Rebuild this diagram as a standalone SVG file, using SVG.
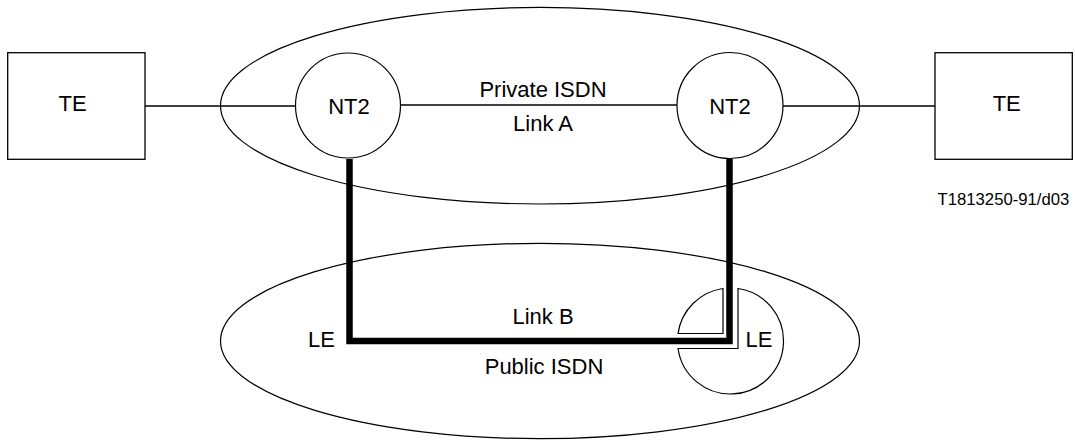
<svg xmlns="http://www.w3.org/2000/svg" width="1075" height="441" viewBox="0 0 1075 441">
<style>
  .lbl { font-family: "Liberation Sans", Arial, sans-serif; font-size: 22px; fill: #000; }
  .code { font-family: "Liberation Sans", Arial, sans-serif; font-size: 16.7px; fill: #000; }
  .box { fill: #fff; stroke: #000; stroke-width: 1.3; }
  .circ { fill: #fff; stroke: #000; stroke-width: 1.2; }
  .ell { fill: none; stroke: #000; stroke-width: 1.2; }
  .thin { fill: none; stroke: #000; stroke-width: 1.7; }
  .thick { fill: none; stroke: #000; stroke-width: 6.5; stroke-linejoin: miter; }
</style>
<rect width="1075" height="441" fill="#fff"/>
<g id="private-isdn">
  <ellipse class="ell" cx="540" cy="105.7" rx="319.5" ry="98.3"/>
</g>
<g id="public-isdn">
  <ellipse class="ell" cx="540" cy="341" rx="319.5" ry="97.7"/>
</g>
<g id="connectors">
  <line class="thin" x1="145" y1="106" x2="296" y2="106"/>
  <line class="thin" x1="400" y1="105" x2="677" y2="105"/>
  <line class="thin" x1="783" y1="106" x2="935" y2="106"/>
  <path class="thick" d="M349.5,159 V341 H729.5 V159"/>
  <text class="lbl" x="543" y="97" text-anchor="middle">Private ISDN</text>
  <text class="lbl" x="543" y="131" text-anchor="middle">Link A</text>
  <text class="lbl" x="543" y="323.5" text-anchor="middle">Link B</text>
  <text class="lbl" x="544" y="373.5" text-anchor="middle">Public ISDN</text>
</g>
<g id="te-left">
  <rect class="box" x="7.7" y="52.7" width="137.3" height="106.6"/>
  <text class="lbl" x="72.5" y="111" text-anchor="middle">TE</text>
</g>
<g id="nt2-left">
  <circle class="circ" cx="348" cy="105.5" r="52.5"/>
  <text class="lbl" x="349" y="114" text-anchor="middle">NT2</text>
</g>
<g id="nt2-right">
  <circle class="circ" cx="730" cy="105.5" r="53"/>
  <text class="lbl" x="730" y="114" text-anchor="middle">NT2</text>
</g>
<g id="te-right">
  <rect class="box" x="935" y="52.7" width="137.3" height="106.6"/>
  <text class="lbl" x="1006.7" y="111" text-anchor="middle">TE</text>
</g>
<g id="le-left">
  <text class="lbl" x="321.5" y="347" text-anchor="middle">LE</text>
</g>
<g id="le-right">
  <path class="ell" d="M723,288.53 L723,333.5 L678.03,333.5 A53,53 0 0 1 723,288.53 Z"/>
  <path class="ell" d="M738,288.53 L738,348.5 L678.03,348.5 A53,53 0 1 0 738,288.53 Z"/>
  <text class="lbl" x="759" y="346.7" text-anchor="middle">LE</text>
</g>
<text class="code" x="1069.3" y="205" text-anchor="end">T1813250-91/d03</text>
</svg>
